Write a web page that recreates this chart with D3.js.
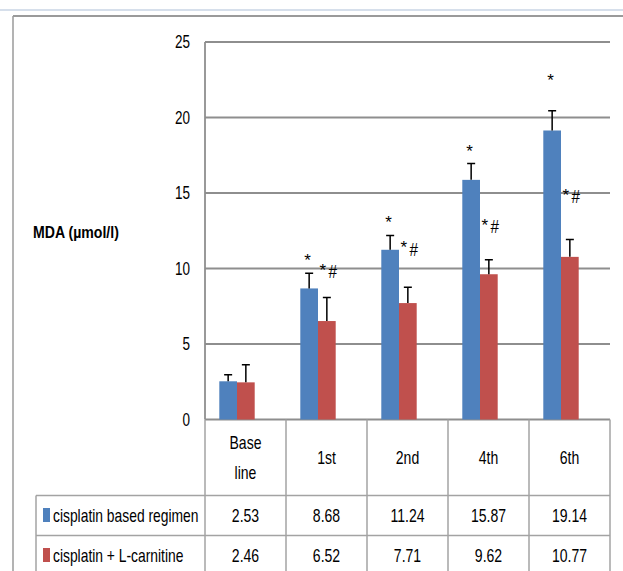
<!DOCTYPE html>
<html>
<head>
<meta charset="utf-8">
<script src="https://cdn.jsdelivr.net/npm/d3@7"></script>
<style>
  body { margin: 0; background: #fff; }
  text { font-family: "Liberation Sans", Arial, sans-serif; fill: #000; }
</style>
</head>
<body>
<svg id="chart"></svg>
<script>
const categories = ["Base line", "1st", "2nd", "4th", "6th"];
const seriesNames = ["cisplatin based regimen", "cisplatin + L-carnitine"];
const cisplatin = [2.53, 8.68, 11.24, 15.87, 19.14];
const carnitine = [2.46, 6.52, 7.71, 9.62, 10.77];
const cisplatinErr = [0.43, 1.0, 0.95, 1.08, 1.3];
const carnitineErr = [1.16, 1.56, 1.05, 0.96, 1.15];
// significance marks and the MDA level they were placed at
const cisplatinMark = ["", "*", "*", "*", "*"];
const carnitineMark = ["", "*#", "*#", "*#", "*#"];
const cisplatinMarkAt = [0, 10.66, 13.13, 17.86, 22.58];
const carnitineMarkAt = [0, 10.0, 11.46, 12.97, 14.95];
const yTicks = [0, 5, 10, 15, 20, 25];

const width = 623;
const height = 571;
const colors = ["#4f81bd", "#c0504d"];
const gridColor = "#8e8e8e";
const tableColor = "#a3a3a3";
const fontSize = "18px";

// squeeze text horizontally around its x, the original font is a narrow one
function condense(selection, k) {
  selection.each(function () {
    const x0 = +this.getAttribute("x") || 0;
    this.setAttribute("transform", `translate(${x0},0) scale(${k},1) translate(${-x0},0)`);
  });
}

const svg = d3.select("#chart").attr("width", width).attr("height", height);

// spreadsheet background bits
svg.append("line")
  .attr("x1", 0).attr("x2", width).attr("y1", 10).attr("y2", 10)
  .attr("stroke", "#d6dfeb").attr("stroke-width", 2);
svg.append("line")
  .attr("x1", 13).attr("x2", 13).attr("y1", 16).attr("y2", height)
  .attr("stroke", "#9a9a9a").attr("stroke-width", 1.5);
svg.append("line")
  .attr("x1", 13).attr("x2", width).attr("y1", 16).attr("y2", 16)
  .attr("stroke", "#9a9a9a").attr("stroke-width", 2);

const x = d3.scaleBand().domain(categories).range([205, 610]);
const sub = d3.scaleBand().domain([0, 1]).range([0, 35.4]);
const groupShift = 14.3;
const y = d3.scaleLinear().domain([0, 25]).range([419.5, 42]);

// gridlines
svg.append("g")
  .selectAll("line")
  .data(yTicks)
  .enter()
  .append("line")
  .attr("x1", 205).attr("x2", 610)
  .attr("y1", (d) => y(d)).attr("y2", (d) => y(d))
  .attr("stroke", gridColor).attr("stroke-width", 1.8);

svg.append("line")
  .attr("x1", 205).attr("x2", 205).attr("y1", y(25)).attr("y2", y(0))
  .attr("stroke", gridColor).attr("stroke-width", 1.8);

// y axis labels
const yAxis = d3.axisLeft(y).tickValues(yTicks).tickSize(0).tickPadding(15);
const yg = svg.append("g").attr("transform", "translate(205,0)").call(yAxis);
yg.select(".domain").remove();
yg.selectAll("text")
  .style("font-family", '"Liberation Sans", Arial, sans-serif')
  .style("font-size", fontSize)
  .attr("fill", "#000")
  .call(condense, 0.75);

svg.append("text")
  .attr("x", 33).attr("y", 232)
  .attr("dy", "0.35em")
  .style("font-size", "17px")
  .style("font-weight", "bold")
  .text("MDA (\u00b5mol/l)")
  .call(condense, 0.83);

// bars
const series = [
  { values: cisplatin, err: cisplatinErr, mark: cisplatinMark, markAt: cisplatinMarkAt },
  { values: carnitine, err: carnitineErr, mark: carnitineMark, markAt: carnitineMarkAt },
];

series.forEach((s, si) => {
  const g = svg.append("g");
  const left = (i) => x(categories[i]) + groupShift + sub(si);
  const mid = (i) => left(i) + sub.bandwidth() / 2;

  g.selectAll("rect")
    .data(s.values)
    .enter()
    .append("rect")
    .attr("x", (d, i) => left(i))
    .attr("y", (d) => y(d))
    .attr("width", sub.bandwidth())
    .attr("height", (d) => y(0) - y(d))
    .attr("fill", colors[si]);

  // error bars (upper only)
  g.selectAll(".err")
    .data(s.values)
    .enter()
    .append("path")
    .attr("class", "err")
    .attr("d", (d, i) => {
      const top = y(d + s.err[i]);
      const cx = mid(i);
      return `M${cx},${y(d)}V${top}M${cx - 4},${top}H${cx + 4}`;
    })
    .attr("stroke", "#000")
    .attr("stroke-width", 1.5)
    .attr("fill", "none");

  // significance marks
  s.mark.forEach((m, i) => {
    if (!m) return;
    const cx = mid(i) + (si === 0 ? -1.5 : -4);
    const cy = y(s.markAt[i]);
    g.append("text")
      .attr("x", cx).attr("y", cy + 7)
      .attr("text-anchor", "middle")
      .style("font-size", "17px")
      .attr("fill", "#222")
      .text("*");
    if (m.includes("#")) {
      g.append("text")
        .attr("x", cx + 10).attr("y", cy + 3)
        .attr("dy", "0.35em")
        .attr("text-anchor", "middle")
        .style("font-size", "18px")
        .attr("fill", "#222")
        .text("#")
        .call(condense, 0.85);
    }
  });
});

// data table
const headerBottom = 495.5;
const rowBottom = 535.5;
const rowMid = [515.5, 555.5];
const bounds = categories.map((c) => x(c)).concat([610]);

svg.append("g")
  .selectAll("line")
  .data(bounds)
  .enter()
  .append("line")
  .attr("x1", (d) => d).attr("x2", (d) => d)
  .attr("y1", y(0)).attr("y2", height)
  .attr("stroke", tableColor).attr("stroke-width", 1.5);

[headerBottom, rowBottom].forEach((yy) => {
  svg.append("line")
    .attr("x1", 36).attr("x2", 610).attr("y1", yy).attr("y2", yy)
    .attr("stroke", tableColor).attr("stroke-width", 1.5);
});
svg.append("line")
  .attr("x1", 36).attr("x2", 36).attr("y1", headerBottom).attr("y2", height)
  .attr("stroke", tableColor).attr("stroke-width", 1.5);

// header labels
categories.forEach((c) => {
  const words = c.split(" ");
  const cx = x(c) + x.bandwidth() / 2;
  const t = svg.append("text")
    .attr("x", cx)
    .attr("text-anchor", "middle")
    .style("font-size", fontSize);
  words.forEach((w, wi) => {
    const cy = 457.5 + (wi - (words.length - 1) / 2) * 30;
    t.append("tspan").attr("x", cx).attr("y", cy).attr("dy", "0.35em").text(w);
  });
  t.call(condense, 0.78);
});

// rows
[cisplatin, carnitine].forEach((vals, ri) => {
  svg.append("rect")
    .attr("x", 43).attr("y", rowMid[ri] - 7.5)
    .attr("width", 7).attr("height", 14)
    .attr("fill", colors[ri]);
  svg.append("text")
    .attr("x", 53).attr("y", rowMid[ri])
    .attr("dy", "0.35em")
    .style("font-size", fontSize)
    .text(seriesNames[ri])
    .call(condense, 0.77);
  vals.forEach((v, i) => {
    svg.append("text")
      .attr("x", x(categories[i]) + x.bandwidth() / 2)
      .attr("y", rowMid[ri])
      .attr("dy", "0.35em")
      .attr("text-anchor", "middle")
      .style("font-size", fontSize)
      .text(v.toFixed(2))
      .call(condense, 0.78);
  });
});
</script>
</body>
</html>
